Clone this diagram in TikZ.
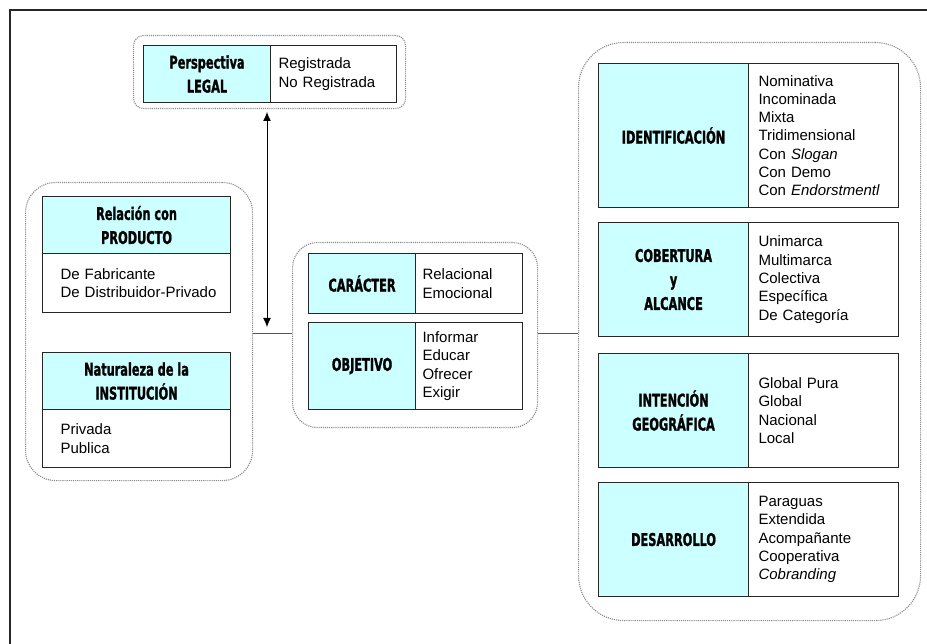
\documentclass[tikz,border=0pt]{standalone}
\usepackage{fontspec}
\setmainfont{Liberation Sans}
\newfontfamily\hdrfont[FakeStretch=0.72,FakeBold=1.2]{DejaVu Sans Condensed}
\usetikzlibrary{arrows.meta}
\definecolor{cellcyan}{HTML}{CCFFFF}
\definecolor{grpgray}{HTML}{8A8A8A}
\definecolor{linegray}{HTML}{555555}
\begin{document}
\begin{tikzpicture}[x=1pt,y=-1pt,
  grp/.style={draw=grpgray, densely dotted, line width=1.1pt, fill=white, anchor=north west, inner sep=0pt},
  hdr/.style={draw=black!85, line width=1.1pt, fill=cellcyan, anchor=north west, inner sep=0pt, align=center,
    font=\hdrfont\bfseries\fontsize{17.5}{24}\selectfont},
  lst/.style={draw=black!85, line width=1.1pt, fill=white, anchor=north west, inner xsep=8pt, inner ysep=0pt, align=left,
    font=\fontsize{15}{18.3}\selectfont},
  conn/.style={draw=linegray, line width=0.8pt},
  arr/.style={draw=black, line width=1pt, {Latex[length=9pt,width=8pt]}-{Latex[length=9pt,width=8pt]}}
]
\useasboundingbox (0,0) rectangle (927,644);
\fill[white] (0,0) rectangle (927,644);
% outer frame
\draw[line width=1.6pt, draw=black!85] (10,644) -- (10,10) -- (927,10);

% groups
\node[grp, rounded corners=10pt, minimum width=272pt, minimum height=73pt] (topgrp) at (133,35) {};
\node[grp, rounded corners=30pt, minimum width=227pt, minimum height=298pt] (leftgrp) at (25,182) {};
\node[grp, rounded corners=25pt, minimum width=245pt, minimum height=185pt] (midgrp) at (292,242) {};
\node[grp, rounded corners=45pt, minimum width=342pt, minimum height=578pt] (rightgrp) at (578,42) {};

% top table
\node[hdr, minimum width=127pt, minimum height=57pt] (legalh) at (143,45) {Perspectiva\\LEGAL};
\node[lst, text width=110pt, minimum height=57pt] (legall) at (270,45) {Registrada\\No Registrada};

% left tables
\node[hdr, minimum width=188pt, minimum height=57pt] (prodh) at (42,196) {Relaci\'on con\\PRODUCTO};
\node[lst, inner xsep=8pt, text width=172pt, minimum height=59pt] (prodl) at (42,253)
  {\hspace*{10pt}De Fabricante\\\hspace*{10pt}De Distribuidor-Privado};
\node[hdr, minimum width=188pt, minimum height=57pt] (insth) at (42,352) {Naturaleza de la\\INSTITUCI\'ON};
\node[lst, inner xsep=8pt, text width=172pt, minimum height=58pt] (instl) at (42,409)
  {\hspace*{10pt}Privada\\\hspace*{10pt}Publica};

% middle tables
\node[hdr, minimum width=107pt, minimum height=60pt] (carh) at (308,253) {CAR\'ACTER};
\node[lst, inner xsep=7pt, text width=93pt, minimum height=60pt] (carl) at (415,253) {Relacional\\Emocional};
\node[hdr, minimum width=107pt, minimum height=87pt] (objh) at (308,322) {OBJETIVO};
\node[lst, inner xsep=7pt, text width=93pt, minimum height=87pt] (objl) at (415,322) {Informar\\Educar\\Ofrecer\\Exigir};

% right tables
\node[hdr, minimum width=150pt, minimum height=144pt] (identh) at (598,63) {IDENTIFICACI\'ON};
\node[lst, inner xsep=10pt, text width=130pt, minimum height=144pt] (identl) at (748,63)
  {Nominativa\\Incominada\\Mixta\\Tridimensional\\Con \textit{Slogan}\\Con Demo\\Con \textit{Endorstmentl}};
\node[hdr, minimum width=150pt, minimum height=114pt] (cobh) at (598,222) {COBERTURA\\y\\ALCANCE};
\node[lst, inner xsep=10pt, text width=130pt, minimum height=114pt] (cobl) at (748,222)
  {Unimarca\\Multimarca\\Colectiva\\Espec\'ifica\\De Categor\'ia};
\node[hdr, minimum width=150pt, minimum height=114pt] (geoh) at (598,353) {INTENCI\'ON\\GEOGR\'AFICA};
\node[lst, inner xsep=10pt, text width=130pt, minimum height=114pt] (geol) at (748,353)
  {Global Pura\\Global\\Nacional\\Local};
\node[hdr, minimum width=150pt, minimum height=114pt] (desh) at (598,482) {DESARROLLO};
\node[lst, inner xsep=10pt, text width=130pt, minimum height=114pt] (desl) at (748,482)
  {Paraguas\\Extendida\\Acompa\~nante\\Cooperativa\\\textit{Cobranding}};

% connectors
\coordinate (lvl) at (0,333);
\draw[conn] (leftgrp.east |- lvl) -- (midgrp.west |- lvl);
\draw[conn] (midgrp.east |- lvl) -- (rightgrp.west |- lvl);
\coordinate (arrtop) at (267,112);
\coordinate (arrend) at (267,327);
\draw[arr] (arrtop) -- (arrend);
\end{tikzpicture}
\end{document}
